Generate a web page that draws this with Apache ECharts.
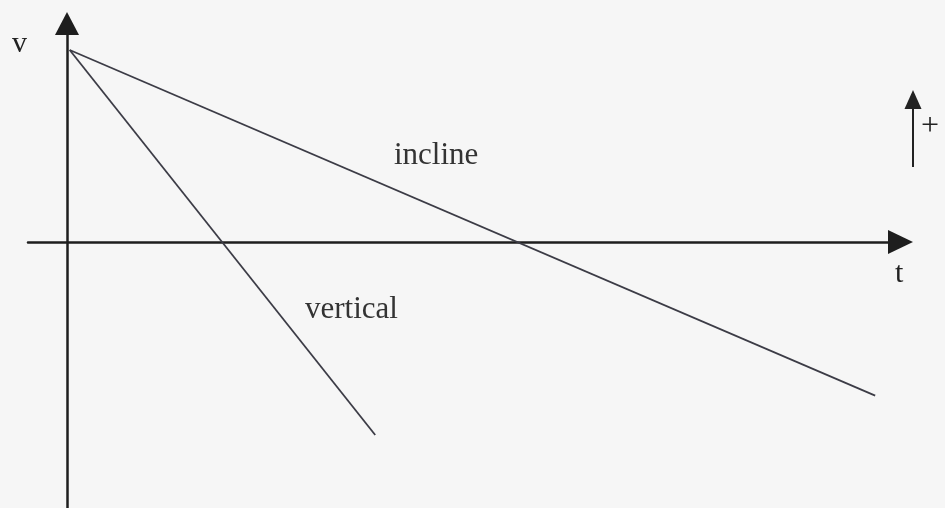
<!DOCTYPE html>
<html>
<head>
<meta charset="utf-8">
<script src="https://cdn.jsdelivr.net/npm/echarts@6/dist/echarts.min.js"></script>
<style>
html,body{margin:0;padding:0;background:#f6f6f6;}
#main{width:945px;height:508px;}
</style>
</head>
<body>
<div id="main"></div>
<script>
// Data (t, v)
const inclineT = [0.03, 9.02];
const inclineV = [10, -8.0];
const verticalT = [0.03, 3.44];
const verticalV = [10, -10.05];
const axisNames = ['v', 't'];
const seriesNames = ['incline', 'vertical'];

const chart = echarts.init(document.getElementById('main'));
const toPairs = (ts, vs) => ts.map((t, i) => [t, vs[i]]);
const font = '"Liberation Serif", "DejaVu Serif", serif';
const axisColor = '#1e1e1e';
const lineColor = '#3c3c46';

chart.setOption({
  backgroundColor: '#f6f6f6',
  animation: false,
  grid: { left: 28, right: 44.5, top: 23.5, bottom: 0, containLabel: false },
  xAxis: {
    type: 'value', min: -0.4353, max: 9.3025,
    axisLine: { show: true, onZero: true, symbol: ['none', 'triangle'], symbolSize: [24, 25],
      lineStyle: { color: axisColor, width: 2.5 } },
    axisTick: { show: false }, axisLabel: { show: false }, splitLine: { show: false }
  },
  yAxis: {
    type: 'value', min: -13.854, max: 11.38,
    axisLine: { show: true, onZero: true, symbol: ['none', 'triangle'], symbolSize: [24, 23],
      lineStyle: { color: axisColor, width: 2.5 } },
    axisTick: { show: false }, axisLabel: { show: false }, splitLine: { show: false }
  },
  series: [
    { name: seriesNames[0], type: 'line', data: toPairs(inclineT, inclineV), symbol: 'none',
      lineStyle: { color: lineColor, width: 1.8 } },
    { name: seriesNames[1], type: 'line', data: toPairs(verticalT, verticalV), symbol: 'none',
      lineStyle: { color: lineColor, width: 1.8 } }
  ],
  graphic: [
    { type: 'text', left: 12, top: 29, style: { text: axisNames[0], font: '30px ' + font, fill: '#222' } },
    { type: 'text', left: 895, top: 259, style: { text: axisNames[1], font: '30px ' + font, fill: '#222' } },
    { type: 'text', left: 394, top: 140, style: { text: seriesNames[0], font: '31px ' + font, fill: '#333' } },
    { type: 'text', left: 305, top: 294, style: { text: seriesNames[1], font: '31px ' + font, fill: '#333' } },
    { type: 'text', left: 921, top: 111, style: { text: '+', font: '32px ' + font, fill: '#222' } },
    { type: 'line', shape: { x1: 913, y1: 106, x2: 913, y2: 167 }, style: { stroke: '#222', lineWidth: 2 } },
    { type: 'polygon', shape: { points: [[913, 90], [904.5, 109], [921.5, 109]] }, style: { fill: '#222' } }
  ]
});
</script>
</body>
</html>
